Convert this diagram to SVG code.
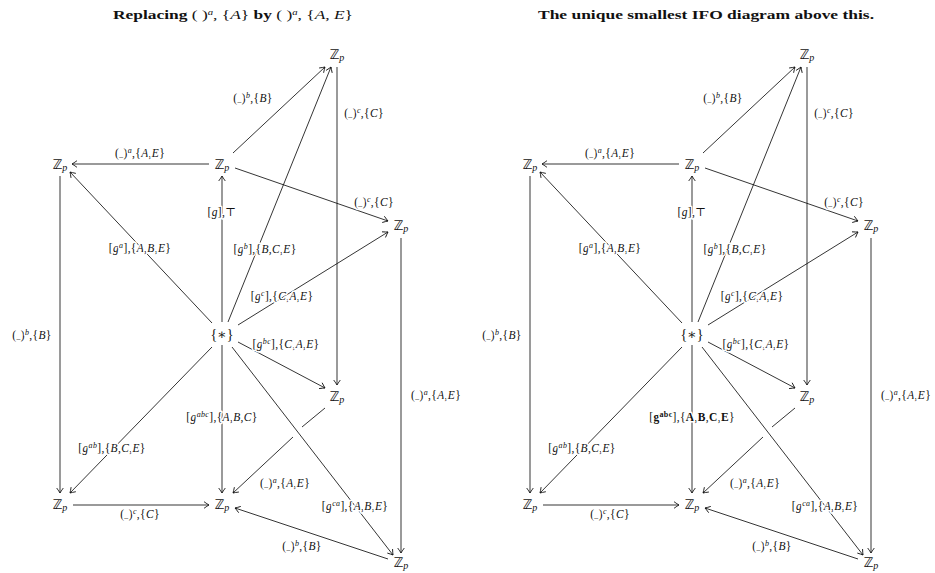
<svg xmlns="http://www.w3.org/2000/svg" width="935" height="573" viewBox="0 0 935 573">
<style>
text{font-family:"Liberation Serif","DejaVu Serif",serif;fill:#111}
.ttl{font-size:13px;font-weight:bold;text-anchor:middle}
.nrm{font-weight:normal}
.node{font-size:14px;text-anchor:middle}
.zz{font-family:"DejaVu Sans",sans-serif;font-size:13px}
.lbl{font-size:11.5px;letter-spacing:0.35px;text-anchor:middle;paint-order:stroke;stroke:#fff;stroke-width:3px;stroke-linejoin:round}
.it{font-style:italic}
.sup{font-size:8px;font-style:italic}
.bsup{font-size:8px;font-weight:bold}
.u{font-size:8px}
.b{font-weight:bold}
.e{fill:none;stroke:#111;stroke-width:0.85}
.a{marker-end:url(#arr)}
</style>
<defs>
<marker id="arr" viewBox="-7 -5 8 10" refX="0" refY="0" markerWidth="8" markerHeight="10" markerUnits="userSpaceOnUse" orient="auto">
<path d="M-5,-3.3 Q-1.6,-0.9 0,0 Q-1.6,0.9 -5,3.3" fill="none" stroke="#111" stroke-width="0.85"/>
</marker>
</defs>

<text class="ttl" x="233" y="19" textLength="240" lengthAdjust="spacingAndGlyphs">Replacing <tspan class="nrm">( )</tspan><tspan class="sup nrm" dy="-4">a</tspan><tspan class="nrm" dy="4">, {</tspan><tspan class="nrm it">A</tspan><tspan class="nrm">}</tspan> by <tspan class="nrm">( )</tspan><tspan class="sup nrm" dy="-4">a</tspan><tspan class="nrm" dy="4">, {</tspan><tspan class="nrm it">A</tspan><tspan class="nrm">, </tspan><tspan class="nrm it">E</tspan><tspan class="nrm">}</tspan></text>
<text class="ttl" x="706" y="19" textLength="336" lengthAdjust="spacingAndGlyphs">The unique smallest IFO diagram above this.</text>

<!-- LEFT DIAGRAM -->
<g id="left">
<g id="L-edges">
<path class="e a" d="M209,164 L72,164"/>
<path class="e a" d="M233,153 L325,67"/>
<path class="e a" d="M235,168 L388,221"/>
<path class="e a" d="M337,67 L337,385"/>
<path class="e a" d="M222,322 L222,176"/>
<path class="e a" d="M212,323 L70,172"/>
<path class="e a" d="M228,322 L331,67"/>
<path class="e a" d="M238,325 L388,232"/>
<path class="e a" d="M238,342 L325,388"/>
<path class="e a" d="M222,345 L222,493"/>
<path class="e a" d="M212,347 L70,493"/>
<path class="e a" d="M232,347 L393,555"/>
<path class="e a" d="M60,176 L60,493"/>
<path class="e a" d="M73,505 L209,505"/>
<path class="e" d="M325,408 L302,427"/>
<path class="e a" d="M293,437 L233,493"/>
<path class="e a" d="M401,238 L401,553"/>
<path class="e a" d="M388,559 L235,508"/>
</g>
<g id="L-labels">
<text class="lbl" x="140" y="157">(<tspan class="u">_</tspan>)<tspan class="sup" baseline-shift="super">a</tspan>,{<tspan class="it">A</tspan>,<tspan class="it">E</tspan>}</text>
<text class="lbl" x="253" y="102">(<tspan class="u">_</tspan>)<tspan class="sup" baseline-shift="super">b</tspan>,{<tspan class="it">B</tspan>}</text>
<text class="lbl" x="364" y="117">(<tspan class="u">_</tspan>)<tspan class="sup" baseline-shift="super">c</tspan>,{<tspan class="it">C</tspan>}</text>
<text class="lbl" x="374" y="206">(<tspan class="u">_</tspan>)<tspan class="sup" baseline-shift="super">c</tspan>,{<tspan class="it">C</tspan>}</text>
<text class="lbl" x="222" y="216">[<tspan class="it">g</tspan>],⊤</text>
<text class="lbl" x="140" y="252">[<tspan class="it">g</tspan><tspan class="sup" baseline-shift="super">a</tspan>],{<tspan class="it">A</tspan>,<tspan class="it">B</tspan>,<tspan class="it">E</tspan>}</text>
<text class="lbl" x="265" y="253">[<tspan class="it">g</tspan><tspan class="sup" baseline-shift="super">b</tspan>],{<tspan class="it">B</tspan>,<tspan class="it">C</tspan>,<tspan class="it">E</tspan>}</text>
<text class="lbl" x="282" y="300">[<tspan class="it">g</tspan><tspan class="sup" baseline-shift="super">c</tspan>],{<tspan class="it">C</tspan>,<tspan class="it">A</tspan>,<tspan class="it">E</tspan>}</text>
<text class="lbl" x="286" y="348">[<tspan class="it">g</tspan><tspan class="sup" baseline-shift="super">bc</tspan>],{<tspan class="it">C</tspan>,<tspan class="it">A</tspan>,<tspan class="it">E</tspan>}</text>
<text class="lbl" x="32" y="339">(<tspan class="u">_</tspan>)<tspan class="sup" baseline-shift="super">b</tspan>,{<tspan class="it">B</tspan>}</text>
<text class="lbl" x="222" y="421">[<tspan class="it">g</tspan><tspan class="sup" baseline-shift="super">abc</tspan>],{<tspan class="it">A</tspan>,<tspan class="it">B</tspan>,<tspan class="it">C</tspan>}</text>
<text class="lbl" x="112" y="452">[<tspan class="it">g</tspan><tspan class="sup" baseline-shift="super">ab</tspan>],{<tspan class="it">B</tspan>,<tspan class="it">C</tspan>,<tspan class="it">E</tspan>}</text>
<text class="lbl" x="285" y="487">(<tspan class="u">_</tspan>)<tspan class="sup" baseline-shift="super">a</tspan>,{<tspan class="it">A</tspan>,<tspan class="it">E</tspan>}</text>
<text class="lbl" x="436" y="399">(<tspan class="u">_</tspan>)<tspan class="sup" baseline-shift="super">a</tspan>,{<tspan class="it">A</tspan>,<tspan class="it">E</tspan>}</text>
<text class="lbl" x="355" y="510">[<tspan class="it">g</tspan><tspan class="sup" baseline-shift="super">ca</tspan>],{<tspan class="it">A</tspan>,<tspan class="it">B</tspan>,<tspan class="it">E</tspan>}</text>
<text class="lbl" x="140" y="518">(<tspan class="u">_</tspan>)<tspan class="sup" baseline-shift="super">c</tspan>,{<tspan class="it">C</tspan>}</text>
<text class="lbl" x="302" y="550">(<tspan class="u">_</tspan>)<tspan class="sup" baseline-shift="super">b</tspan>,{<tspan class="it">B</tspan>}</text>
</g>
<g id="L-top"><text class="node" x="337" y="59"><tspan class="zz">ℤ</tspan><tspan class="it" font-size="10" dy="2">p</tspan></text></g>
<g id="L-left"><text class="node" x="60" y="169"><tspan class="zz">ℤ</tspan><tspan class="it" font-size="10" dy="2">p</tspan></text></g>
<g id="L-mid"><text class="node" x="222" y="169"><tspan class="zz">ℤ</tspan><tspan class="it" font-size="10" dy="2">p</tspan></text></g>
<g id="L-right"><text class="node" x="401" y="230"><tspan class="zz">ℤ</tspan><tspan class="it" font-size="10" dy="2">p</tspan></text></g>
<g id="L-star"><text class="node" x="222" y="339">{∗}</text></g>
<g id="L-low"><text class="node" x="337" y="401"><tspan class="zz">ℤ</tspan><tspan class="it" font-size="10" dy="2">p</tspan></text></g>
<g id="L-bl"><text class="node" x="60" y="509"><tspan class="zz">ℤ</tspan><tspan class="it" font-size="10" dy="2">p</tspan></text></g>
<g id="L-bc"><text class="node" x="222" y="509"><tspan class="zz">ℤ</tspan><tspan class="it" font-size="10" dy="2">p</tspan></text></g>
<g id="L-br"><text class="node" x="401" y="567"><tspan class="zz">ℤ</tspan><tspan class="it" font-size="10" dy="2">p</tspan></text></g>
</g>

<!-- RIGHT DIAGRAM -->
<g id="right" transform="translate(470,0)">
<g id="R-edges">
<path class="e a" d="M209,164 L72,164"/>
<path class="e a" d="M233,153 L325,67"/>
<path class="e a" d="M235,168 L388,221"/>
<path class="e a" d="M337,67 L337,385"/>
<path class="e a" d="M222,322 L222,176"/>
<path class="e a" d="M212,323 L70,172"/>
<path class="e a" d="M228,322 L331,67"/>
<path class="e a" d="M238,325 L388,232"/>
<path class="e a" d="M238,342 L325,388"/>
<path class="e a" d="M222,345 L222,493"/>
<path class="e a" d="M212,347 L70,493"/>
<path class="e a" d="M232,347 L393,555"/>
<path class="e a" d="M60,176 L60,493"/>
<path class="e a" d="M73,505 L209,505"/>
<path class="e" d="M325,408 L302,427"/>
<path class="e a" d="M293,437 L233,493"/>
<path class="e a" d="M401,238 L401,553"/>
<path class="e a" d="M388,559 L235,508"/>
</g>
<g id="R-labels">
<text class="lbl" x="140" y="157">(<tspan class="u">_</tspan>)<tspan class="sup" baseline-shift="super">a</tspan>,{<tspan class="it">A</tspan>,<tspan class="it">E</tspan>}</text>
<text class="lbl" x="253" y="102">(<tspan class="u">_</tspan>)<tspan class="sup" baseline-shift="super">b</tspan>,{<tspan class="it">B</tspan>}</text>
<text class="lbl" x="364" y="117">(<tspan class="u">_</tspan>)<tspan class="sup" baseline-shift="super">c</tspan>,{<tspan class="it">C</tspan>}</text>
<text class="lbl" x="374" y="206">(<tspan class="u">_</tspan>)<tspan class="sup" baseline-shift="super">c</tspan>,{<tspan class="it">C</tspan>}</text>
<text class="lbl" x="222" y="216">[<tspan class="it">g</tspan>],⊤</text>
<text class="lbl" x="140" y="252">[<tspan class="it">g</tspan><tspan class="sup" baseline-shift="super">a</tspan>],{<tspan class="it">A</tspan>,<tspan class="it">B</tspan>,<tspan class="it">E</tspan>}</text>
<text class="lbl" x="265" y="253">[<tspan class="it">g</tspan><tspan class="sup" baseline-shift="super">b</tspan>],{<tspan class="it">B</tspan>,<tspan class="it">C</tspan>,<tspan class="it">E</tspan>}</text>
<text class="lbl" x="282" y="300">[<tspan class="it">g</tspan><tspan class="sup" baseline-shift="super">c</tspan>],{<tspan class="it">C</tspan>,<tspan class="it">A</tspan>,<tspan class="it">E</tspan>}</text>
<text class="lbl" x="286" y="348">[<tspan class="it">g</tspan><tspan class="sup" baseline-shift="super">bc</tspan>],{<tspan class="it">C</tspan>,<tspan class="it">A</tspan>,<tspan class="it">E</tspan>}</text>
<text class="lbl" x="32" y="339">(<tspan class="u">_</tspan>)<tspan class="sup" baseline-shift="super">b</tspan>,{<tspan class="it">B</tspan>}</text>
<text class="lbl" x="222" y="421">[<tspan class="b">g</tspan><tspan class="bsup" baseline-shift="super">abc</tspan>],{<tspan class="b">A</tspan>,<tspan class="b">B</tspan>,<tspan class="b">C</tspan>,<tspan class="b">E</tspan>}</text>
<text class="lbl" x="112" y="452">[<tspan class="it">g</tspan><tspan class="sup" baseline-shift="super">ab</tspan>],{<tspan class="it">B</tspan>,<tspan class="it">C</tspan>,<tspan class="it">E</tspan>}</text>
<text class="lbl" x="285" y="487">(<tspan class="u">_</tspan>)<tspan class="sup" baseline-shift="super">a</tspan>,{<tspan class="it">A</tspan>,<tspan class="it">E</tspan>}</text>
<text class="lbl" x="436" y="399">(<tspan class="u">_</tspan>)<tspan class="sup" baseline-shift="super">a</tspan>,{<tspan class="it">A</tspan>,<tspan class="it">E</tspan>}</text>
<text class="lbl" x="355" y="510">[<tspan class="it">g</tspan><tspan class="sup" baseline-shift="super">ca</tspan>],{<tspan class="it">A</tspan>,<tspan class="it">B</tspan>,<tspan class="it">E</tspan>}</text>
<text class="lbl" x="140" y="518">(<tspan class="u">_</tspan>)<tspan class="sup" baseline-shift="super">c</tspan>,{<tspan class="it">C</tspan>}</text>
<text class="lbl" x="302" y="550">(<tspan class="u">_</tspan>)<tspan class="sup" baseline-shift="super">b</tspan>,{<tspan class="it">B</tspan>}</text>
</g>
<g id="R-top"><text class="node" x="337" y="59"><tspan class="zz">ℤ</tspan><tspan class="it" font-size="10" dy="2">p</tspan></text></g>
<g id="R-left"><text class="node" x="60" y="169"><tspan class="zz">ℤ</tspan><tspan class="it" font-size="10" dy="2">p</tspan></text></g>
<g id="R-mid"><text class="node" x="222" y="169"><tspan class="zz">ℤ</tspan><tspan class="it" font-size="10" dy="2">p</tspan></text></g>
<g id="R-right"><text class="node" x="401" y="230"><tspan class="zz">ℤ</tspan><tspan class="it" font-size="10" dy="2">p</tspan></text></g>
<g id="R-star"><text class="node" x="222" y="339">{∗}</text></g>
<g id="R-low"><text class="node" x="337" y="401"><tspan class="zz">ℤ</tspan><tspan class="it" font-size="10" dy="2">p</tspan></text></g>
<g id="R-bl"><text class="node" x="60" y="509"><tspan class="zz">ℤ</tspan><tspan class="it" font-size="10" dy="2">p</tspan></text></g>
<g id="R-bc"><text class="node" x="222" y="509"><tspan class="zz">ℤ</tspan><tspan class="it" font-size="10" dy="2">p</tspan></text></g>
<g id="R-br"><text class="node" x="401" y="567"><tspan class="zz">ℤ</tspan><tspan class="it" font-size="10" dy="2">p</tspan></text></g>
</g>
</svg>
